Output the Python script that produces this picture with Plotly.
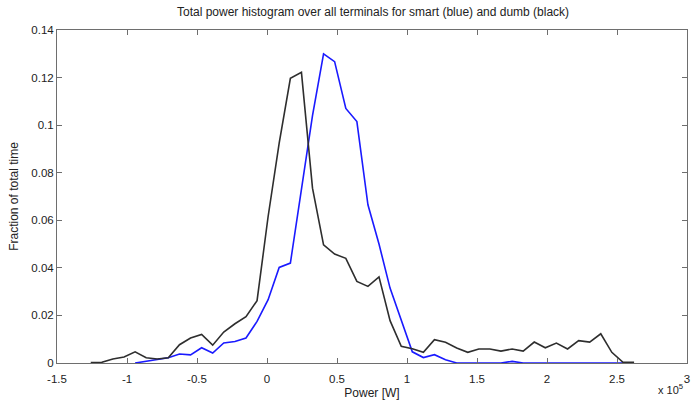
import plotly.graph_objects as go

# Bin centres (units of 1e5 W)
bin_centers = [-1.259, -1.180, -1.101, -1.021, -0.942, -0.863, -0.784, -0.705, -0.625, -0.546,
               -0.467, -0.388, -0.309, -0.229, -0.150, -0.071, 0.008, 0.087, 0.167, 0.246,
               0.325, 0.404, 0.483, 0.563, 0.642, 0.721, 0.800, 0.879, 0.959, 1.038,
               1.117, 1.196, 1.275, 1.355, 1.434, 1.513, 1.592, 1.671, 1.751, 1.830,
               1.909, 1.988, 2.067, 2.147, 2.226, 2.305, 2.384, 2.463, 2.543, 2.622]

# Dumb terminals (black), all 50 bins
dumb = [0.0002, 0.0003, 0.0017, 0.0025, 0.0047, 0.0022, 0.0017, 0.0022, 0.0077, 0.0105,
        0.0120, 0.0075, 0.0130, 0.0165, 0.0195, 0.0262, 0.0616, 0.0924, 0.1197, 0.1222,
        0.0735, 0.0497, 0.0458, 0.0440, 0.0343, 0.0322, 0.0362, 0.0178, 0.0070, 0.0060,
        0.0045, 0.0098, 0.0087, 0.0063, 0.0045, 0.0059, 0.0059, 0.0050, 0.0059, 0.0050,
        0.0088, 0.0064, 0.0084, 0.0059, 0.0094, 0.0088, 0.0123, 0.0045, 0.0003, 0.0003]

# Smart terminals (blue), bins 4..48
smart_first_bin = 4
smart = [0.0, 0.0007, 0.0014, 0.0022, 0.0038, 0.0034, 0.0064, 0.0042, 0.0084, 0.0090,
         0.0105, 0.0175, 0.0266, 0.0402, 0.0420, 0.0730, 0.1040, 0.1300, 0.1267, 0.1070,
         0.1015, 0.0665, 0.0500, 0.0315, 0.0180, 0.0047, 0.0023, 0.0035, 0.0014, 0.0,
         0.0, 0.0, 0.0, 0.0, 0.0007, 0.0, 0.0, 0.0, 0.0, 0.0,
         0.0, 0.0, 0.0, 0.0, 0.0]

x_tick_vals = [-1.5, -1, -0.5, 0, 0.5, 1, 1.5, 2, 2.5, 3]
x_tick_text = ["-1.5", "-1", "-0.5", "0", "0.5", "1", "1.5", "2", "2.5", "3"]
y_tick_vals = [0, 0.02, 0.04, 0.06, 0.08, 0.1, 0.12, 0.14]
y_tick_text = ["0", "0.02", "0.04", "0.06", "0.08", "0.1", "0.12", "0.14"]

smart_x = bin_centers[smart_first_bin:smart_first_bin + len(smart)]

fig = go.Figure()
fig.add_trace(go.Scatter(x=smart_x, y=smart, mode="lines",
                         line=dict(color="#1a1aff", width=1.6), showlegend=False))
fig.add_trace(go.Scatter(x=bin_centers, y=dumb, mode="lines",
                         line=dict(color="#2e2e2e", width=1.6), showlegend=False))

fam = "Liberation Sans, Arial, sans-serif"
font = dict(family=fam, size=12, color="#222222")
tfont = dict(family=fam, size=11.5, color="#222222")
axis_common = dict(showline=True, linecolor="#6e6e6e", linewidth=1, mirror="ticks",
                   ticks="inside", ticklen=5, tickcolor="#6e6e6e", showgrid=False,
                   zeroline=False, tickfont=tfont)

fig.update_layout(
    width=696, height=404,
    margin=dict(l=57, r=6, t=30, b=41),
    paper_bgcolor="white", plot_bgcolor="white",
    font=font,
    title=dict(text="Total power histogram over all terminals for smart (blue) and dumb (black)",
               x=0.536, xanchor="center", y=0.97, yanchor="middle", font=font),
    xaxis=dict(range=[-1.5, 3], tickvals=x_tick_vals, ticktext=x_tick_text,
               ticklabelstandoff=5,
               title=dict(text="Power [W]", font=font, standoff=4), **axis_common),
    yaxis=dict(range=[0, 0.14], tickvals=y_tick_vals, ticktext=y_tick_text,
               title=dict(text="Fraction of total time", font=font, standoff=10), **axis_common),
    annotations=[dict(text="x 10<sup>5</sup>", xref="paper", yref="paper", x=0.997, y=-0.052,
                      xanchor="right", yanchor="top", showarrow=False,
                      font=dict(family=fam, size=11, color="#222222"))],
)

fig.write_html("out.html")
